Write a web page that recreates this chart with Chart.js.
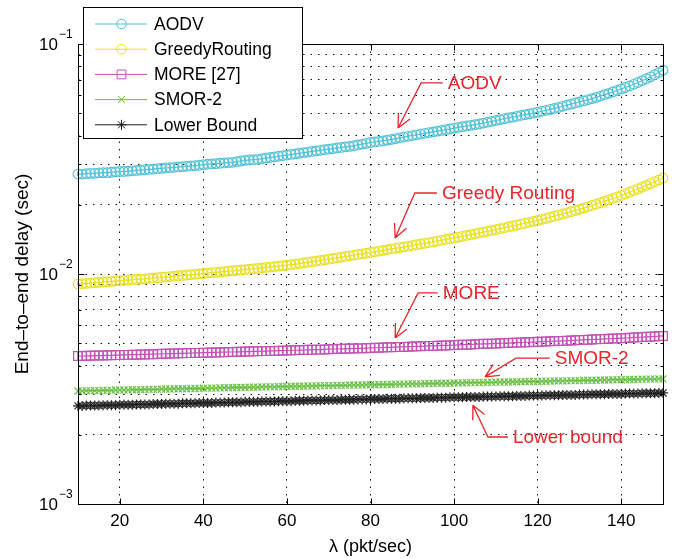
<!DOCTYPE html>
<html>
<head>
<meta charset="utf-8">
<script src="https://cdn.jsdelivr.net/npm/chart.js@4.4.1/dist/chart.umd.min.js"></script>
<style>
  html, body { margin: 0; padding: 0; background: #fff; }
  #wrap { width: 676px; height: 559px; }
</style>
</head>
<body>
<div id="wrap"><canvas id="delayChart" width="676" height="559"></canvas></div>
<script>
// packet rate (pkt/sec), one sample per integer
const lambdas = [
    10, 11, 12, 13, 14, 15, 16, 17, 18, 19,
    20, 21, 22, 23, 24, 25, 26, 27, 28, 29,
    30, 31, 32, 33, 34, 35, 36, 37, 38, 39,
    40, 41, 42, 43, 44, 45, 46, 47, 48, 49,
    50, 51, 52, 53, 54, 55, 56, 57, 58, 59,
    60, 61, 62, 63, 64, 65, 66, 67, 68, 69,
    70, 71, 72, 73, 74, 75, 76, 77, 78, 79,
    80, 81, 82, 83, 84, 85, 86, 87, 88, 89,
    90, 91, 92, 93, 94, 95, 96, 97, 98, 99,
    100, 101, 102, 103, 104, 105, 106, 107, 108, 109,
    110, 111, 112, 113, 114, 115, 116, 117, 118, 119,
    120, 121, 122, 123, 124, 125, 126, 127, 128, 129,
    130, 131, 132, 133, 134, 135, 136, 137, 138, 139,
    140, 141, 142, 143, 144, 145, 146, 147, 148, 149,
    150
];

// end-to-end delay (sec)
const aodvDelay = [
    0.0272, 0.0272, 0.0273, 0.0274, 0.0274, 0.0275, 0.0276, 0.0276, 0.0277, 0.0278,
    0.0279, 0.0279, 0.0280, 0.0281, 0.0282, 0.0283, 0.0284, 0.0285, 0.0286, 0.0287,
    0.0288, 0.0289, 0.0290, 0.0291, 0.0292, 0.0293, 0.0294, 0.0295, 0.0296, 0.0297,
    0.0299, 0.0300, 0.0301, 0.0302, 0.0303, 0.0304, 0.0305, 0.0306, 0.0308, 0.0310,
    0.0312, 0.0313, 0.0314, 0.0315, 0.0317, 0.0319, 0.0321, 0.0323, 0.0325, 0.0327,
    0.0329, 0.0331, 0.0333, 0.0335, 0.0337, 0.0339, 0.0341, 0.0343, 0.0345, 0.0347,
    0.0349, 0.0351, 0.0353, 0.0355, 0.0357, 0.0359, 0.0361, 0.0364, 0.0367, 0.0370,
    0.0373, 0.0375, 0.0377, 0.0379, 0.0382, 0.0385, 0.0388, 0.0391, 0.0394, 0.0397,
    0.0400, 0.0403, 0.0406, 0.0409, 0.0412, 0.0415, 0.0418, 0.0421, 0.0424, 0.0427,
    0.0431, 0.0434, 0.0437, 0.0440, 0.0443, 0.0446, 0.0449, 0.0453, 0.0457, 0.0461,
    0.0465, 0.0469, 0.0473, 0.0477, 0.0481, 0.0485, 0.0489, 0.0493, 0.0497, 0.0501,
    0.0505, 0.0510, 0.0515, 0.0520, 0.0525, 0.0530, 0.0536, 0.0542, 0.0548, 0.0554,
    0.0560, 0.0566, 0.0572, 0.0579, 0.0586, 0.0594, 0.0602, 0.0610, 0.0619, 0.0628,
    0.0638, 0.0647, 0.0657, 0.0668, 0.0680, 0.0693, 0.0706, 0.0720, 0.0735, 0.0752,
    0.0770
];

const greedyDelay = [
    0.00905, 0.00908, 0.00911, 0.00914, 0.00917, 0.00920, 0.00923, 0.00926, 0.00929, 0.00932,
    0.00935, 0.00938, 0.00941, 0.00944, 0.00947, 0.00950, 0.00953, 0.00957, 0.00961, 0.00964,
    0.00968, 0.00972, 0.00975, 0.00979, 0.00983, 0.00986, 0.00990, 0.00994, 0.00997, 0.01001,
    0.01005, 0.01009, 0.01013, 0.01017, 0.01021, 0.01025, 0.01029, 0.01033, 0.01037, 0.01041,
    0.01045, 0.01049, 0.01054, 0.01058, 0.01063, 0.01068, 0.01072, 0.01077, 0.01082, 0.01087,
    0.01092, 0.01098, 0.01104, 0.01110, 0.01117, 0.01124, 0.01131, 0.01138, 0.01145, 0.01152,
    0.01160, 0.01168, 0.01176, 0.01184, 0.01192, 0.01200, 0.01208, 0.01216, 0.01224, 0.01232,
    0.01240, 0.01249, 0.01258, 0.01267, 0.01276, 0.01285, 0.01294, 0.01303, 0.01312, 0.01321,
    0.01330, 0.01340, 0.01350, 0.01360, 0.01370, 0.01380, 0.01391, 0.01402, 0.01413, 0.01424,
    0.01435, 0.01447, 0.01459, 0.01471, 0.01483, 0.01495, 0.01508, 0.01521, 0.01534, 0.01547,
    0.01560, 0.01574, 0.01588, 0.01602, 0.01617, 0.01632, 0.01647, 0.01662, 0.01678, 0.01694,
    0.01710, 0.01728, 0.01746, 0.01765, 0.01784, 0.01804, 0.01824, 0.01845, 0.01866, 0.01888,
    0.01910, 0.01934, 0.01959, 0.01985, 0.02012, 0.02040, 0.02069, 0.02099, 0.02130, 0.02162,
    0.02195, 0.02231, 0.02268, 0.02306, 0.02346, 0.02387, 0.02429, 0.02473, 0.02519, 0.02566,
    0.02615
];

const moreDelay = [
    0.00440, 0.00440, 0.00441, 0.00441, 0.00442, 0.00442, 0.00442, 0.00443, 0.00443, 0.00444,
    0.00444, 0.00445, 0.00445, 0.00446, 0.00446, 0.00447, 0.00447, 0.00448, 0.00448, 0.00449,
    0.00450, 0.00450, 0.00451, 0.00451, 0.00452, 0.00452, 0.00453, 0.00453, 0.00454, 0.00454,
    0.00455, 0.00455, 0.00456, 0.00456, 0.00457, 0.00457, 0.00458, 0.00458, 0.00459, 0.00459,
    0.00460, 0.00460, 0.00461, 0.00461, 0.00462, 0.00462, 0.00463, 0.00463, 0.00464, 0.00464,
    0.00465, 0.00466, 0.00466, 0.00467, 0.00467, 0.00468, 0.00468, 0.00469, 0.00469, 0.00470,
    0.00471, 0.00472, 0.00472, 0.00473, 0.00473, 0.00474, 0.00474, 0.00475, 0.00475, 0.00476,
    0.00477, 0.00478, 0.00478, 0.00479, 0.00480, 0.00480, 0.00481, 0.00482, 0.00482, 0.00483,
    0.00484, 0.00485, 0.00485, 0.00486, 0.00487, 0.00487, 0.00488, 0.00489, 0.00489, 0.00490,
    0.00491, 0.00492, 0.00493, 0.00493, 0.00494, 0.00495, 0.00496, 0.00497, 0.00497, 0.00498,
    0.00499, 0.00500, 0.00501, 0.00501, 0.00502, 0.00503, 0.00504, 0.00505, 0.00505, 0.00506,
    0.00507, 0.00508, 0.00509, 0.00510, 0.00511, 0.00511, 0.00512, 0.00513, 0.00514, 0.00515,
    0.00516, 0.00517, 0.00518, 0.00519, 0.00520, 0.00521, 0.00522, 0.00523, 0.00524, 0.00525,
    0.00526, 0.00527, 0.00528, 0.00530, 0.00531, 0.00532, 0.00533, 0.00534, 0.00535, 0.00537,
    0.00538
];

const smorDelay = [
    0.00310, 0.00310, 0.00311, 0.00311, 0.00311, 0.00311, 0.00312,
    0.00312, 0.00312, 0.00313, 0.00313, 0.00313, 0.00313, 0.00314,
    0.00314, 0.00314, 0.00315, 0.00315, 0.00315, 0.00315, 0.00316,
    0.00316, 0.00316, 0.00317, 0.00317, 0.00317, 0.00317, 0.00318,
    0.00318, 0.00318, 0.00319, 0.00319, 0.00319, 0.00319, 0.00320,
    0.00320, 0.00320, 0.00321, 0.00321, 0.00321, 0.00321, 0.00322,
    0.00322, 0.00322, 0.00323, 0.00323, 0.00323, 0.00323, 0.00324,
    0.00324, 0.00324, 0.00325, 0.00325, 0.00325, 0.00325, 0.00326,
    0.00326, 0.00326, 0.00327, 0.00327, 0.00327, 0.00327, 0.00328,
    0.00328, 0.00328, 0.00329, 0.00329, 0.00329, 0.00329, 0.00330,
    0.00330, 0.00330, 0.00331, 0.00331, 0.00331, 0.00331, 0.00332,
    0.00332, 0.00332, 0.00333, 0.00333, 0.00333, 0.00333, 0.00334,
    0.00334, 0.00334, 0.00335, 0.00335, 0.00335, 0.00335, 0.00336,
    0.00336, 0.00336, 0.00337, 0.00337, 0.00337, 0.00337, 0.00338,
    0.00338, 0.00338, 0.00339, 0.00339, 0.00339, 0.00339, 0.00340,
    0.00340, 0.00340, 0.00341, 0.00341, 0.00341, 0.00341, 0.00342,
    0.00342, 0.00342, 0.00343, 0.00343, 0.00343, 0.00343, 0.00344,
    0.00344, 0.00344, 0.00345, 0.00345, 0.00345, 0.00345, 0.00346,
    0.00346, 0.00346, 0.00347, 0.00347, 0.00347, 0.00347, 0.00348,
    0.00348, 0.00348, 0.00349, 0.00349, 0.00349, 0.00349, 0.00350,
    0.00350
];

const lowerDelay = [
    0.00267, 0.00267, 0.00268, 0.00268, 0.00268, 0.00268, 0.00269, 0.00269, 0.00269, 0.00269,
    0.00270, 0.00270, 0.00270, 0.00270, 0.00271, 0.00271, 0.00271, 0.00271, 0.00272, 0.00272,
    0.00272, 0.00273, 0.00273, 0.00273, 0.00273, 0.00274, 0.00274, 0.00274, 0.00274, 0.00275,
    0.00275, 0.00275, 0.00275, 0.00276, 0.00276, 0.00276, 0.00277, 0.00277, 0.00277, 0.00277,
    0.00278, 0.00278, 0.00278, 0.00278, 0.00279, 0.00279, 0.00279, 0.00279, 0.00280, 0.00280,
    0.00280, 0.00280, 0.00281, 0.00281, 0.00281, 0.00282, 0.00282, 0.00282, 0.00282, 0.00283,
    0.00283, 0.00283, 0.00283, 0.00284, 0.00284, 0.00284, 0.00284, 0.00285, 0.00285, 0.00285,
    0.00286, 0.00286, 0.00286, 0.00286, 0.00287, 0.00287, 0.00287, 0.00287, 0.00288, 0.00288,
    0.00288, 0.00288, 0.00289, 0.00289, 0.00289, 0.00289, 0.00290, 0.00290, 0.00290, 0.00291,
    0.00291, 0.00291, 0.00291, 0.00292, 0.00292, 0.00292, 0.00292, 0.00293, 0.00293, 0.00293,
    0.00293, 0.00294, 0.00294, 0.00294, 0.00294, 0.00295, 0.00295, 0.00295, 0.00296, 0.00296,
    0.00296, 0.00296, 0.00297, 0.00297, 0.00297, 0.00297, 0.00298, 0.00298, 0.00298, 0.00298,
    0.00299, 0.00299, 0.00299, 0.00300, 0.00300, 0.00300, 0.00300, 0.00301, 0.00301, 0.00301,
    0.00301, 0.00302, 0.00302, 0.00302, 0.00302, 0.00303, 0.00303, 0.00303, 0.00303, 0.00304,
    0.00304
];

const seriesNames = ['AODV', 'GreedyRouting', 'MORE [27]', 'SMOR-2', 'Lower Bound'];

// axis ticks
const xTicks = [20, 40, 60, 80, 100, 120, 140];
const xTickLabels = ['20', '40', '60', '80', '100', '120', '140'];
const yDecades = [0.001, 0.01, 0.1];
const yDecadeExponents = ['\u22123', '\u22122', '\u22121'];
const yGridTicks = [
    0.001, 0.002, 0.003, 0.004, 0.005, 0.006, 0.007, 0.008, 0.009,
    0.01, 0.02, 0.03, 0.04, 0.05, 0.06, 0.07, 0.08, 0.09,
    0.1
];

// red call-outs, in data coordinates
const callouts = [
    { text: 'AODV', tip: [86.6, 0.0431], elbow: [92.1, 0.0677], textX: 98.5 },
    { text: 'Greedy Routing', tip: [85.9, 0.01434], elbow: [90.6, 0.0225], textX: 97.1 },
    { text: 'MORE', tip: [85.9, 0.00527], elbow: [91.4, 0.00827], textX: 97.3 },
    { text: 'SMOR-2', tip: [107.4, 0.00357], elbow: [114.8, 0.00431], textX: 124.1 },
    { text: 'Lower bound', tip: [104.5, 0.00269], elbow: [108.1, 0.001956], textX: 114.1 }
];

const FONT = '"Liberation Sans", Arial, Helvetica, sans-serif';
Chart.defaults.font.family = FONT;
Chart.defaults.color = '#000';

function series(label, values, color, style, radius) {
    return {
        label,
        data: lambdas.map((x, i) => ({ x, y: values[i] })),
        borderColor: color,
        borderWidth: 1.2,
        pointStyle: style,
        pointRadius: radius,
        pointBorderWidth: 1.2,
        pointBorderColor: color,
        pointBackgroundColor: 'rgba(0,0,0,0)',
        fill: false,
        tension: 0,
        clip: false
    };
}

// box, inward ticks, 10^n labels, call-outs and legend
const matlabLook = {
    id: 'matlabLook',
    afterDraw(chart) {
        const { ctx, chartArea: a } = chart;
        const xs = chart.scales.x, ys = chart.scales.y;
        ctx.save();

        // axes box
        ctx.strokeStyle = '#000';
        ctx.lineWidth = 1;
        const L = Math.round(a.left) + 0.5, T = Math.round(a.top) + 0.5;
        const R = Math.round(a.right) + 0.5, B = Math.round(a.bottom) + 0.5;
        ctx.strokeRect(L, T, R - L, B - T);

        ctx.beginPath();
        xTicks.forEach(v => {
            const px = Math.round(xs.getPixelForValue(v)) + 0.5;
            ctx.moveTo(px, B); ctx.lineTo(px, B - 6);
            ctx.moveTo(px, T); ctx.lineTo(px, T + 6);
        });
        yGridTicks.forEach(v => {
            const py = Math.round(ys.getPixelForValue(v)) + 0.5;
            const len = yDecades.includes(v) ? 6 : 3;
            ctx.moveTo(L, py); ctx.lineTo(L + len, py);
            ctx.moveTo(R, py); ctx.lineTo(R - len, py);
        });
        ctx.stroke();

        // 10^n labels
        ctx.fillStyle = '#000';
        yDecades.forEach((v, i) => {
            const py = ys.getPixelForValue(v);
            ctx.font = '17px ' + FONT;
            ctx.textAlign = 'right';
            ctx.textBaseline = 'middle';
            ctx.fillText('10', a.left - 20, py + 1);
            ctx.font = '12px ' + FONT;
            ctx.textAlign = 'left';
            ctx.fillText(yDecadeExponents[i], a.left - 19, py - 9);
        });

        // call-outs
        ctx.strokeStyle = '#e8262c';
        ctx.fillStyle = '#e8262c';
        ctx.lineWidth = 1.3;
        ctx.font = '19px ' + FONT;
        ctx.textAlign = 'left';
        ctx.textBaseline = 'middle';
        callouts.forEach(c => {
            const tx = xs.getPixelForValue(c.tip[0]), ty = ys.getPixelForValue(c.tip[1]);
            const ex = xs.getPixelForValue(c.elbow[0]), ey = ys.getPixelForValue(c.elbow[1]);
            const lx = xs.getPixelForValue(c.textX);
            const ang = Math.atan2(ey - ty, ex - tx);
            ctx.beginPath();
            ctx.moveTo(lx - 5, ey);
            ctx.lineTo(ex, ey);
            ctx.lineTo(tx, ty);
            [-0.45, 0.45].forEach(d => {
                ctx.moveTo(tx, ty);
                ctx.lineTo(tx + 15 * Math.cos(ang + d), ty + 15 * Math.sin(ang + d));
            });
            ctx.stroke();
            ctx.fillText(c.text, lx, ey + 1);
        });

        // legend
        const lgL = Math.round(a.left) + 5, lgT = Math.round(a.top) - 37;
        const lgW = 219, lgH = 131;
        ctx.fillStyle = '#fff';
        ctx.fillRect(lgL, lgT, lgW, lgH);
        ctx.strokeStyle = '#000';
        ctx.lineWidth = 1;
        ctx.strokeRect(lgL + 0.5, lgT + 0.5, lgW, lgH);
        ctx.font = '17.5px ' + FONT;
        chart.data.datasets.forEach((ds, i) => {
            const cy = lgT + 17 + i * 25.2;
            ctx.strokeStyle = ds.borderColor;
            ctx.lineWidth = 1;
            ctx.beginPath();
            ctx.moveTo(lgL + 12, cy);
            ctx.lineTo(lgL + 64, cy);
            ctx.stroke();
            ctx.fillStyle = 'rgba(0,0,0,0)';
            Chart.helpers.drawPoint(ctx, {
                pointStyle: ds.pointStyle, radius: ds.pointRadius, rotation: 0, borderWidth: 1
            }, lgL + 38.5, cy);
            ctx.fillStyle = '#000';
            ctx.textAlign = 'left';
            ctx.textBaseline = 'middle';
            ctx.fillText(ds.label, lgL + 71, cy + 1);
        });

        ctx.restore();
    }
};

const chart = new Chart(document.getElementById('delayChart'), {
    type: 'line',
    data: {
        datasets: [
            series(seriesNames[0], aodvDelay, '#52c2d8', 'circle', 4.8),
            series(seriesNames[1], greedyDelay, '#e9e024', 'circle', 4.8),
            series(seriesNames[2], moreDelay, '#c352b9', 'rect', 6.2),
            series(seriesNames[3], smorDelay, '#69c045', 'crossRot', 5),
            series(seriesNames[4], lowerDelay, '#222222', 'star', 5)
        ]
    },
    options: {
        responsive: false,
        animation: false,
        events: [],
        layout: { padding: { top: 44, right: 13, bottom: 0, left: 0 } },
        plugins: { legend: { display: false }, tooltip: { enabled: false } },
        scales: {
            x: {
                type: 'linear',
                min: 10,
                max: 150,
                afterBuildTicks: s => { s.ticks = xTicks.map(v => ({ value: v })); },
                afterFit: s => { s.height = 55; },
                ticks: {
                    font: { size: 17 },
                    color: '#000',
                    padding: 7,
                    maxRotation: 0,
                    autoSkip: false,
                    callback: v => xTickLabels[xTicks.indexOf(v)]
                },
                grid: { color: '#111', lineWidth: 1, drawTicks: false },
                border: { display: false, dash: [1.5, 6] },
                title: {
                    display: true,
                    text: '\u03bb (pkt/sec)',
                    font: { size: 18 },
                    color: '#000',
                    padding: { top: 0, bottom: 1 }
                }
            },
            y: {
                type: 'logarithmic',
                min: 0.001,
                max: 0.1,
                afterBuildTicks: s => { s.ticks = yGridTicks.map(v => ({ value: v })); },
                afterFit: s => { s.width = 78; },
                ticks: { display: false },
                grid: { color: '#111', lineWidth: 1, drawTicks: false },
                border: { display: false, dash: [1.5, 6] },
                title: {
                    display: true,
                    text: 'End\u2013to\u2013end delay (sec)',
                    font: { size: 19 },
                    color: '#000',
                    padding: { top: 11, bottom: 0 }
                }
            }
        }
    },
    plugins: [matlabLook]
});
</script>
</body>
</html>
